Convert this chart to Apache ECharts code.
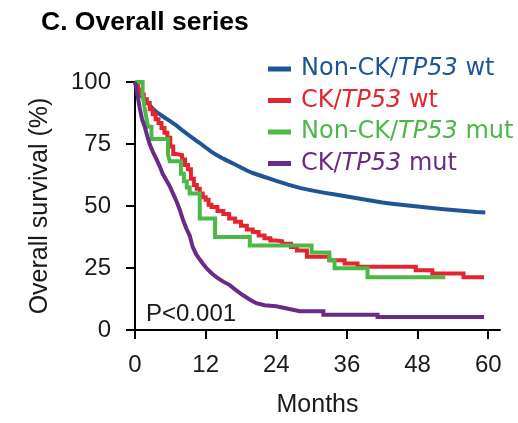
<!DOCTYPE html>
<html>
<head>
<meta charset="utf-8">
<script src="https://cdn.jsdelivr.net/npm/echarts@6/dist/echarts.min.js"></script>
<style>
  html, body { margin: 0; padding: 0; background: #ffffff; }
  #chart { width: 518px; height: 423px; }
</style>
</head>
<body>
<div id="chart"></div>
<script>
// Kaplan–Meier overall survival by karyotype / TP53 status, [month, % surviving]
var seriesNames = ['Non-CK/TP53 wt', 'CK/TP53 wt', 'Non-CK/TP53 mut', 'CK/TP53 mut'];
var seriesColors = ['#1f5594', '#e2252e', '#4db848', '#6a2a88'];
// large groups have very fine steps and are drawn as a continuous trace
var seriesStep = [false, 'end', 'end', false];

var nonCkWt = [
  [0, 100], [0.5, 96.5], [1, 94.5], [2, 92.1], [3, 89.2], [4, 87.3], [5, 85.7], [5.6, 84.8],
  [7, 82.5], [8, 80.6], [9, 78.8], [10, 77.1], [11, 75.4], [12, 73.6], [13, 71.8],
  [14, 70.4], [15, 69.1], [16, 67.9], [17, 66.7], [18, 65.5], [19, 64.3], [20, 63.3],
  [21, 62.5], [22, 61.7], [23, 60.9], [24, 60.1], [26, 58.6], [28, 57.3], [30, 56.3],
  [32, 55.4], [34, 54.6], [36, 53.8], [38, 53], [40, 52.2], [42, 51.4], [44, 50.8],
  [46, 50.3], [48, 49.8], [50, 49.3], [52, 48.8], [54, 48.4], [56, 48], [58, 47.6], [59.5, 47.4]
];

var ckWt = [
  [0, 100], [0.5, 97], [1, 95], [1.5, 93], [2, 91.5], [2.5, 89], [3, 87], [3.5, 85],
  [4, 83.5], [4.5, 81.5], [5, 79.5], [5.5, 77.5], [6, 74], [6.5, 71], [7, 70.5], [8, 68.8],
  [8.5, 66.5], [9, 64.8], [9.5, 61], [10, 58.5], [10.5, 57], [11, 55], [11.5, 53.5],
  [12, 52.5], [12.5, 50.5], [13, 49.6], [14, 48], [15, 46.8], [16, 45], [17, 43.6],
  [18, 42], [19, 40.5], [20, 39.5], [21, 38.1], [22, 37], [23, 36.1], [24, 35.8],
  [25, 34.8], [26.5, 33.5], [27.5, 32.1], [29.2, 29.5], [33, 28.1], [35.6, 26.8],
  [37.8, 25.5], [47.7, 24.1], [50.5, 22.8], [55.8, 21.3], [59.3, 21.3]
];

var nonCkMut = [
  [0, 100], [1.3, 95], [1.6, 90], [1.9, 86], [2.2, 82], [2.8, 77], [5.6, 71], [5.9, 68],
  [7.8, 63], [8.3, 60], [8.8, 57.5], [9.3, 55], [11, 45], [13.6, 37.5], [19.5, 34.1],
  [30, 31.2], [33, 28.1], [33.9, 24.9], [39.5, 21.3], [52.7, 21.3]
];

var ckMut = [
  [0, 100], [0.4, 95], [0.8, 89.6], [1.2, 85], [1.7, 81.6], [2.1, 78], [2.5, 74.9],
  [3.1, 71.5], [3.7, 68.6], [4.2, 66], [4.7, 63], [5.3, 60.5], [5.9, 58], [6.5, 54.8],
  [7.1, 51.6], [7.6, 48.5], [8.1, 44.8], [8.7, 41], [9.3, 38], [9.8, 33.5], [10.4, 30.5],
  [11, 28.5], [11.6, 26.5], [12.3, 24.5], [13.2, 22.5], [14, 21], [15, 19.5], [16.1, 18.1],
  [17.2, 16], [18.3, 14.1], [19.4, 12.4], [20.6, 10.8], [22, 10], [24, 9.6], [26, 8.6],
  [28, 7.6], [32, 7.6], [32, 6.1], [41.2, 6.1], [41.2, 5.2], [59.3, 5.2]
];

var monthTicks = [0, 12, 24, 36, 48, 60];
var survivalTicks = [0, 25, 50, 75, 100];
var pValueText = 'P<0.001';

var seriesData = [nonCkWt, ckWt, nonCkMut, ckMut];

var axisFont = '"Liberation Sans", Arial, sans-serif';
var legendFont = '"DejaVu Sans", sans-serif';
var legendSize = 24;

// one rich-text style pair per legend entry so "TP53" can be italic in the series colour
var rich = {};
seriesColors.forEach(function (c, i) {
  rich['n' + i] = { color: c, fontSize: legendSize, fontFamily: legendFont };
  rich['i' + i] = { color: c, fontSize: legendSize, fontFamily: legendFont, fontStyle: 'italic' };
});

var chart = echarts.init(document.getElementById('chart'), null, { renderer: 'canvas' });

chart.setOption({
  animation: false,
  backgroundColor: '#ffffff',
  title: {
    text: 'C. Overall series',
    left: 41,
    top: 9,
    padding: 0,
    textStyle: { fontFamily: axisFont, fontWeight: 'bold', fontSize: 26.5, color: '#000000' }
  },
  legend: {
    orient: 'vertical',
    left: 268,
    top: 57,
    padding: 0,
    itemGap: 7.5,
    itemWidth: 23,
    itemHeight: 5,
    icon: 'rect',
    data: seriesNames,
    formatter: function (name) {
      var i = seriesNames.indexOf(name);
      var parts = name.split('TP53');
      return '{n' + i + '|' + parts[0] + '}{i' + i + '|TP53}{n' + i + '|' + parts[1] + '}';
    },
    textStyle: { fontFamily: legendFont, fontSize: legendSize, rich: rich, padding: [0, 0, 0, 5] }
  },
  grid: { left: 135, right: 18, top: 82, bottom: 91, containLabel: false },
  xAxis: {
    type: 'value',
    min: 0,
    max: 62,
    name: 'Months',
    nameLocation: 'middle',
    nameGap: 63,
    nameTextStyle: { fontFamily: axisFont, fontSize: 25, color: '#1a1a1a' },
    splitLine: { show: false },
    axisLine: { show: true, lineStyle: { color: '#000000', width: 2 } },
    axisTick: { show: true, inside: false, length: 9, customValues: monthTicks, lineStyle: { color: '#000000', width: 2 } },
    axisLabel: { customValues: monthTicks, margin: 23, fontFamily: axisFont, fontSize: 24, color: '#1a1a1a' }
  },
  yAxis: {
    type: 'value',
    min: 0,
    max: 100,
    interval: 25,
    name: 'Overall survival (%)',
    nameLocation: 'middle',
    nameGap: 82,
    nameTextStyle: { fontFamily: axisFont, fontSize: 25, color: '#1a1a1a' },
    splitLine: { show: false },
    axisLine: { show: true, lineStyle: { color: '#000000', width: 2 } },
    axisTick: { show: true, inside: false, length: 9, lineStyle: { color: '#000000', width: 2 } },
    axisLabel: { margin: 24, fontFamily: axisFont, fontSize: 24, color: '#1a1a1a' }
  },
  graphic: [{
    type: 'text',
    left: 146,
    top: 302,
    style: { text: pValueText, font: '24px ' + axisFont, fill: '#1a1a1a' }
  }],
  series: seriesNames.map(function (name, i) {
    return {
      name: name,
      type: 'line',
      step: seriesStep[i],
      data: seriesData[i],
      showSymbol: false,
      symbol: 'none',
      color: seriesColors[i],
      lineStyle: { color: seriesColors[i], width: 4, join: 'miter' }
    };
  })
});
</script>
</body>
</html>
